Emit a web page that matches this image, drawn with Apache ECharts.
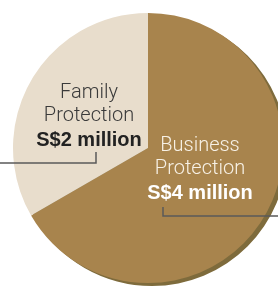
<!DOCTYPE html>
<html>
<head>
<meta charset="utf-8">
<script src="https://cdn.jsdelivr.net/npm/echarts@6/dist/echarts.min.js"></script>
<style>
html,body{margin:0;padding:0;background:#fff;}
#c{width:278px;height:287px;}
</style>
</head>
<body>
<div id="c"></div>
<script>
// Data
const categoryLine1 = ['Business', 'Family'];
const categoryLine2 = ['Protection', 'Protection'];
const values = [4, 2];
const valueLabels = ['S$4 million', 'S$2 million'];

const sliceColors = ['#a8844d', '#e8ddcc'];
const textColors = ['#f7f1e6', '#3a3a3a'];
const boldColors = ['#ffffff', '#222222'];
const labelPos = [[200, 170], [89, 117]];

const chart = echarts.init(document.getElementById('c'));

const data = values.map((v, i) => ({
  value: v,
  name: categoryLine1[i] + ' ' + categoryLine2[i],
  itemStyle: { color: sliceColors[i] },
  label: {
    formatter: '{n|' + categoryLine1[i] + '}\n{n|' + categoryLine2[i] + '}\n{b|' + valueLabels[i] + '}',
    rich: {
      n: { fontFamily: 'Roboto', fontWeight: 300, fontSize: 20, lineHeight: 23, color: textColors[i], align: 'center' },
      b: { fontFamily: 'Liberation Sans', fontWeight: 'bold', fontSize: 20, lineHeight: 25, color: boldColors[i], align: 'center' }
    }
  }
}));

chart.setOption({
  animation: false,
  series: [
    {
      type: 'pie',
      silent: true,
      center: [152, 151],
      radius: 135,
      startAngle: 90,
      z: 1,
      label: { show: false },
      labelLine: { show: false },
      itemStyle: { color: '#7e6b3c' },
      data: values.map(v => ({ value: v }))
    },
    {
      type: 'pie',
      center: [148, 148],
      radius: 135,
      startAngle: 90,
      clockwise: true,
      z: 2,
      label: { show: true, position: 'inside' },
      labelLine: { show: false },
      labelLayout: function (p) {
        return { x: labelPos[p.dataIndex][0], y: labelPos[p.dataIndex][1], align: 'center', verticalAlign: 'middle' };
      },
      data: data
    }
  ],
  graphic: [
    { type: 'polyline', z: 100, shape: { points: [[0, 163], [96, 163], [96, 152]] }, style: { stroke: '#5a5a5a', lineWidth: 1.5, fill: null } },
    { type: 'polyline', z: 100, shape: { points: [[163, 207], [163, 216], [278, 216]] }, style: { stroke: '#5a5a5a', lineWidth: 1.5, fill: null } }
  ]
});
</script>
</body>
</html>
